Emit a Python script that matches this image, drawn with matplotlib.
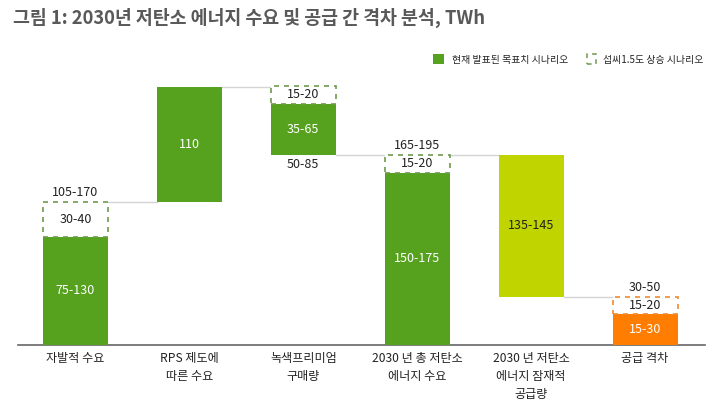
import matplotlib
matplotlib.use("Agg")
import matplotlib.pyplot as plt
from matplotlib.patches import Rectangle
import numpy as np

plt.rcParams['font.family'] = ['Noto Sans CJK KR', 'DejaVu Sans']

categories = ["자발적 수요", "RPS 제도에\n따른 수요", "녹색프리미엄\n구매량",
              "2030 년 총 저탄소\n에너지 수요", "2030 년 저탄소\n에너지 잠재적\n공급량", "공급 격차"]
solid_vals = [108, 115, 51, 172, 142, 31]
solid_bottoms = [0, 143, 190, 0, 48, 0]
dashed_vals = [35, 0, 18, 18, 0, 17]
solid_labels = ["75-130", "110", "35-65", "150-175", "135-145", "15-30"]
dashed_labels = ["30-40", "", "15-20", "15-20", "", "15-20"]
extra_labels = [("105-170", "above"), None, ("50-85", "below"), ("165-195", "above"), None, ("30-50", "above")]

GREEN = "#56a21f"
LIME = "#c0d400"
ORANGE = "#ff7d00"
solid_colors = [GREEN, GREEN, GREEN, GREEN, LIME, ORANGE]
dash_edge = ["#6f9a4e", None, "#6f9a4e", "#6f9a4e", None, "#f08a30"]
label_colors = ["white", "white", "white", "white", "#222222", "white"]

W, H = 720, 412
fig = plt.figure(figsize=(W / 100, H / 100), dpi=100)
ax = fig.add_axes([18 / W, (H - 345) / H, (705 - 18) / W, 265 / H])

x = np.arange(len(categories))
bw = 0.57
ax.bar(x, solid_vals, bottom=solid_bottoms, width=bw, color=solid_colors, zorder=3)

for i in range(len(categories)):
    top = solid_bottoms[i] + solid_vals[i]
    if dashed_vals[i] > 0:
        r = Rectangle((x[i] - bw / 2, top), bw, dashed_vals[i], facecolor="white",
                      edgecolor=dash_edge[i], linestyle=(0, (3, 3)), linewidth=1.2, zorder=3)
        ax.add_patch(r)
        ax.text(x[i], top + dashed_vals[i] / 2, dashed_labels[i], ha="center", va="center",
                fontsize=9, color="#222222", zorder=4)
    ax.text(x[i], solid_bottoms[i] + solid_vals[i] / 2, solid_labels[i], ha="center", va="center",
            fontsize=9, color=label_colors[i], zorder=4)
    if extra_labels[i]:
        txt, pos = extra_labels[i]
        if pos == "above":
            ax.text(x[i], top + dashed_vals[i] + 3, txt, ha="center", va="bottom", fontsize=9, color="#222222")
        else:
            ax.text(x[i], solid_bottoms[i] - 3, txt, ha="center", va="top", fontsize=9, color="#222222")

# connectors
tops = [solid_bottoms[i] + solid_vals[i] + dashed_vals[i] for i in range(len(x))]
levels = [tops[0], tops[1], solid_bottoms[2], tops[3], solid_bottoms[4]]
for i, lv in enumerate(levels):
    ax.plot([x[i] + bw / 2, x[i + 1] - bw / 2], [lv, lv], color="#d4d4d4", lw=1, zorder=1)

ax.set_xlim(-0.504, 5.526)
ax.set_ylim(0, 265)
for s in ["top", "right", "left"]:
    ax.spines[s].set_visible(False)
ax.spines["bottom"].set_color("#666666")
ax.spines["bottom"].set_linewidth(1.2)
ax.set_yticks([])
ax.set_xticks(x)
ax.set_xticklabels(categories, fontsize=8.7, color="#222222", linespacing=1.5)
ax.tick_params(axis="x", length=0, pad=5)

# title
fig.text(13 / W, 1 - 18 / H, "그림 1: 2030년 저탄소 에너지 수요 및 공급 간 격차 분석, TWh",
         fontsize=13.25, fontweight="bold", color="#595959", ha="left", va="center")

# legend
fig.patches.append(Rectangle((433 / W, 1 - 64 / H), 11 / W, 10 / H, transform=fig.transFigure,
                             facecolor=GREEN, edgecolor="none"))
fig.text(452 / W, 1 - 60 / H, "현재 발표된 목표치 시나리오", fontsize=7.1, color="#222222", va="center")
fig.patches.append(Rectangle((587 / W, 1 - 64 / H), 9 / W, 10 / H, transform=fig.transFigure,
                             facecolor="white", edgecolor="#6f9a4e", linestyle=(0, (3, 3)), linewidth=1.1))
fig.text(603 / W, 1 - 60 / H, "섭씨1.5도 상승 시나리오", fontsize=7.1, color="#222222", va="center")

fig.savefig("out.png", dpi=100)
